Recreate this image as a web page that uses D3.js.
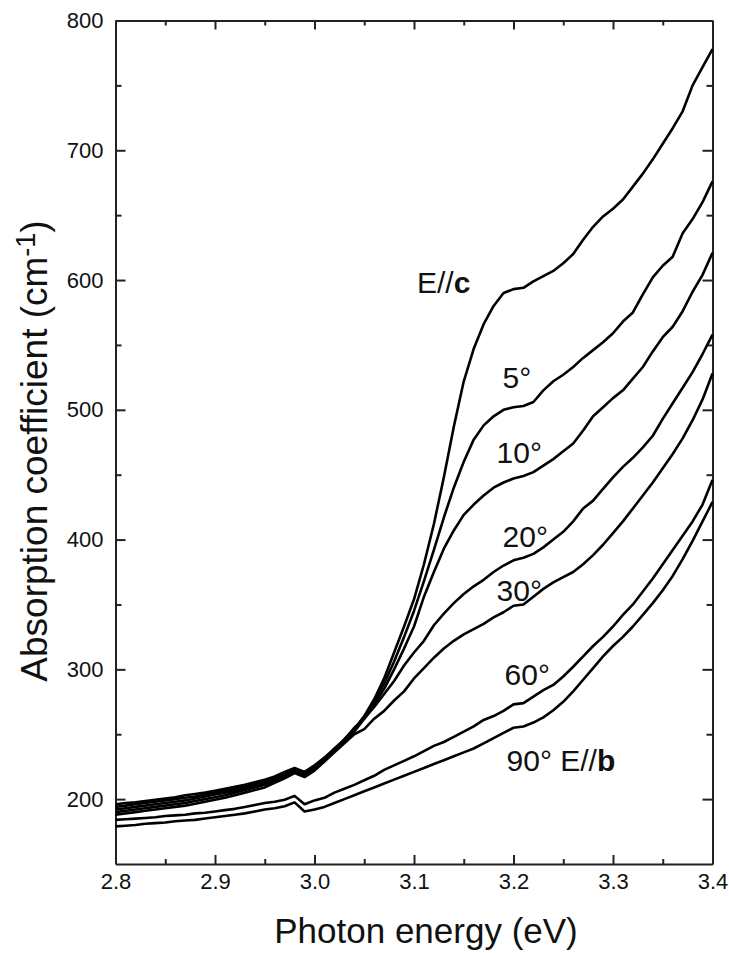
<!DOCTYPE html>
<html>
<head>
<meta charset="utf-8">
<script src="https://cdn.jsdelivr.net/npm/d3@7"></script>
<style>
  html, body { margin: 0; padding: 0; background: #fff; }
  svg { display: block; }
  text { font-family: "Liberation Sans", Arial, Helvetica, sans-serif; }
</style>
</head>
<body>
<svg id="chart" width="729" height="953"></svg>
<script>
// Photon energy grid (eV)
const energies = [
  2.80, 2.81, 2.82, 2.83, 2.84, 2.85, 2.86, 2.87, 2.88, 2.89,
  2.90, 2.91, 2.92, 2.93, 2.94, 2.95, 2.96, 2.97, 2.98, 2.99,
  3.00, 3.01, 3.02, 3.03, 3.04, 3.05, 3.06, 3.07, 3.08, 3.09,
  3.10, 3.11, 3.12, 3.13, 3.14, 3.15, 3.16, 3.17, 3.18, 3.19,
  3.20, 3.21, 3.22, 3.23, 3.24, 3.25, 3.26, 3.27, 3.28, 3.29,
  3.30, 3.31, 3.32, 3.33, 3.34, 3.35, 3.36, 3.37, 3.38, 3.39,
  3.40
];

// Absorption coefficient (cm^-1) for each polarization angle
const alphaEc = [
  196, 197, 197.5, 198.5, 199.5, 200.5, 201.5, 203, 204, 205,
  206.5, 208, 209.5, 211, 213, 215, 217.5, 221, 224, 221,
  226, 232, 239, 246, 254, 264, 277, 293, 313, 333,
  354, 381, 412, 448, 487, 522, 547, 566, 580, 590,
  593, 594, 599, 603, 607, 613, 620, 631, 641, 649,
  655, 662, 672, 682, 693, 705, 717, 730, 750, 764,
  778
];
const alpha5 = [
  194, 195, 196, 197, 198, 199, 200, 201, 202, 203.5,
  205, 206.5, 208, 210, 212, 214, 216.5, 220, 223, 220,
  225, 231, 238, 245, 253, 263, 275, 289, 306, 325,
  345, 368, 392, 417, 440, 460, 477, 488, 495, 500,
  502, 503, 506, 515, 522, 527, 533, 540, 546, 552,
  559, 568, 575, 589, 602, 611, 618, 636, 647, 660,
  676
];
const alpha10 = [
  192, 193, 194, 195, 196, 197, 198, 199, 200.5, 202,
  203.5, 205, 206.5, 208.5, 210.5, 212.5, 215.5, 219, 222, 219,
  224, 230, 237, 244, 252, 262, 273, 285, 300, 316,
  333, 356, 375, 393, 407, 419, 427, 434, 440, 444,
  447, 449, 452, 457, 462, 468, 474, 484, 495, 502,
  509, 515, 524, 533, 545, 556, 564, 576, 591, 604,
  621
];
const alpha20 = [
  190, 191, 192, 193, 194, 195, 196, 197, 198.5, 200,
  201.5, 203, 205, 207, 209, 211, 214, 217.5, 221, 218,
  223, 230, 237, 246, 255, 262, 271, 281, 291, 303,
  313, 322, 334, 343, 351, 358, 364, 369, 375, 380,
  384, 386, 389, 394, 400, 406, 414, 424, 430, 439,
  448, 456, 463, 471, 480, 493, 505, 517, 529, 543,
  558
];
const alpha30 = [
  188, 189, 190, 191, 192, 193, 194, 195, 196.5, 198,
  199.5, 201, 203, 205, 207, 209, 212.5, 216, 220, 217,
  222, 229, 236, 243, 250, 254, 262, 268, 276, 283,
  293, 301, 309, 316, 322, 327, 331, 335, 340, 344,
  349, 350, 356, 362, 367, 371, 375, 381, 388, 396,
  405, 414, 424, 434, 444, 455, 466, 478, 492, 508,
  528
];
const alpha60 = [
  184, 184.5, 185, 185.5, 186, 187, 187.5, 188, 189, 189.5,
  190.5, 191.5, 192.5, 194, 195.5, 197, 198, 199.5, 202.5, 196,
  199, 201, 205, 208, 211, 214.5, 218, 222.5, 226, 229.5,
  233, 237, 241, 244, 248, 252, 256, 261, 264, 268,
  273, 274, 279, 284, 288, 294.5, 302, 310, 318, 325,
  333, 342, 350, 360, 370, 381, 392, 403, 414, 427,
  446
];
const alpha90 = [
  179, 179.5, 180, 181, 181.5, 182, 183, 183.5, 184, 185,
  186, 187, 188, 189, 190.5, 192, 193, 194.5, 197.5, 190.5,
  192, 194, 197, 200, 203, 206, 209, 212, 215, 218,
  221, 224, 227, 230, 233, 236, 239, 243, 247, 251,
  255, 256, 259, 263, 268.5, 275, 283, 292, 301, 310,
  318, 325, 333, 342, 351, 361, 372, 385, 399, 414,
  429
];

const seriesList = [alphaEc, alpha5, alpha10, alpha20, alpha30, alpha60, alpha90];

// Axis ticks
const xTicks = [2.8, 2.9, 3.0, 3.1, 3.2, 3.3, 3.4];
const xMinorTicks = [2.85, 2.95, 3.05, 3.15, 3.25, 3.35];
const yTicks = [200, 300, 400, 500, 600, 700, 800];
const yMinorTicks = [250, 350, 450, 550, 650, 750];

// Curve annotations: text, anchored at (energy, coefficient)
const curveLabels = [
  { parts: [["E//", "normal"], ["c", "bold"]], e: 3.103, v: 590 },
  { parts: [["5°", "normal"]],                e: 3.189, v: 517 },
  { parts: [["10°", "normal"]],               e: 3.183, v: 459 },
  { parts: [["20°", "normal"]],               e: 3.189, v: 394 },
  { parts: [["30°", "normal"]],               e: 3.183, v: 353 },
  { parts: [["60°", "normal"]],               e: 3.191, v: 288 },
  { parts: [["90° E//", "normal"], ["b", "bold"]], e: 3.193, v: 222 }
];

const svg = d3.select("#chart");
const plotLeft = 115.5, plotRight = 712.5, plotTop = 20.5, plotBottom = 864;

const x = d3.scaleLinear().domain([2.8, 3.4]).range([plotLeft, plotRight]);
const y = d3.scaleLinear().domain([150, 800]).range([plotBottom, plotTop]);

const axisColor = "#222";

function styleAxis(g) {
  g.select(".domain").attr("stroke", axisColor).attr("stroke-width", 2);
  g.selectAll(".tick line").attr("stroke", axisColor).attr("stroke-width", 2);
  g.selectAll(".tick text")
    .attr("fill", "#111")
    .style("font-size", "22px")
    .style("font-family", "'Liberation Sans', Arial, sans-serif");
}
function minorAxis(g) {
  g.select(".domain").remove();
  g.selectAll(".tick line").attr("stroke", axisColor).attr("stroke-width", 2);
  g.selectAll(".tick text").remove();
}

// Bottom axis
svg.append("g").attr("transform", `translate(0,${plotBottom})`)
  .call(d3.axisBottom(x).tickValues(xTicks).tickFormat(d3.format(".1f"))
    .tickSizeInner(-9).tickSizeOuter(0).tickPadding(9))
  .call(styleAxis);
svg.append("g").attr("transform", `translate(0,${plotBottom})`)
  .call(d3.axisBottom(x).tickValues(xMinorTicks).tickSizeInner(-5).tickSizeOuter(0))
  .call(minorAxis);

// Top axis
svg.append("g").attr("transform", `translate(0,${plotTop})`)
  .call(d3.axisTop(x).tickValues(xTicks).tickFormat("")
    .tickSizeInner(-9).tickSizeOuter(0))
  .call(styleAxis);
svg.append("g").attr("transform", `translate(0,${plotTop})`)
  .call(d3.axisTop(x).tickValues(xMinorTicks).tickSizeInner(-5).tickSizeOuter(0))
  .call(minorAxis);

// Left axis
svg.append("g").attr("transform", `translate(${plotLeft},0)`)
  .call(d3.axisLeft(y).tickValues(yTicks).tickFormat(d3.format("d"))
    .tickSizeInner(-10).tickSizeOuter(0).tickPadding(12))
  .call(styleAxis);
svg.append("g").attr("transform", `translate(${plotLeft},0)`)
  .call(d3.axisLeft(y).tickValues(yMinorTicks).tickSizeInner(-6).tickSizeOuter(0))
  .call(minorAxis);

// Right axis
svg.append("g").attr("transform", `translate(${plotRight},0)`)
  .call(d3.axisRight(y).tickValues(yTicks).tickFormat("")
    .tickSizeInner(-10).tickSizeOuter(0))
  .call(styleAxis);
svg.append("g").attr("transform", `translate(${plotRight},0)`)
  .call(d3.axisRight(y).tickValues(yMinorTicks).tickSizeInner(-6).tickSizeOuter(0))
  .call(minorAxis);

// Absorption spectra
const line = d3.line()
  .x((d, i) => x(energies[i]))
  .y(d => y(d))
  .curve(d3.curveLinear);

svg.append("g").selectAll("path")
  .data(seriesList)
  .join("path")
  .attr("d", line)
  .attr("fill", "none")
  .attr("stroke", "#000")
  .attr("stroke-width", 2.6)
  .attr("stroke-linejoin", "round");

// Curve labels
const labelG = svg.append("g");
curveLabels.forEach(l => {
  const t = labelG.append("text")
    .attr("x", x(l.e))
    .attr("y", y(l.v))
    .attr("fill", "#111")
    .style("font-size", "30px");
  l.parts.forEach(([s, w]) => t.append("tspan").attr("font-weight", w).text(s));
});

// Axis titles
svg.append("text")
  .attr("x", (plotLeft + plotRight) / 2 + 12)
  .attr("y", 943)
  .attr("text-anchor", "middle")
  .attr("fill", "#111")
  .style("font-size", "35px")
  .text("Photon energy (eV)");

const yTitle = svg.append("text")
  .attr("transform", `translate(47,451) rotate(-90)`)
  .attr("text-anchor", "middle")
  .attr("fill", "#111")
  .style("font-size", "37px");
yTitle.append("tspan").text("Absorption coefficient (cm");
yTitle.append("tspan").attr("dy", -12).style("font-size", "27px").text("-1");
yTitle.append("tspan").attr("dy", 12).text(")");
</script>
</body>
</html>
